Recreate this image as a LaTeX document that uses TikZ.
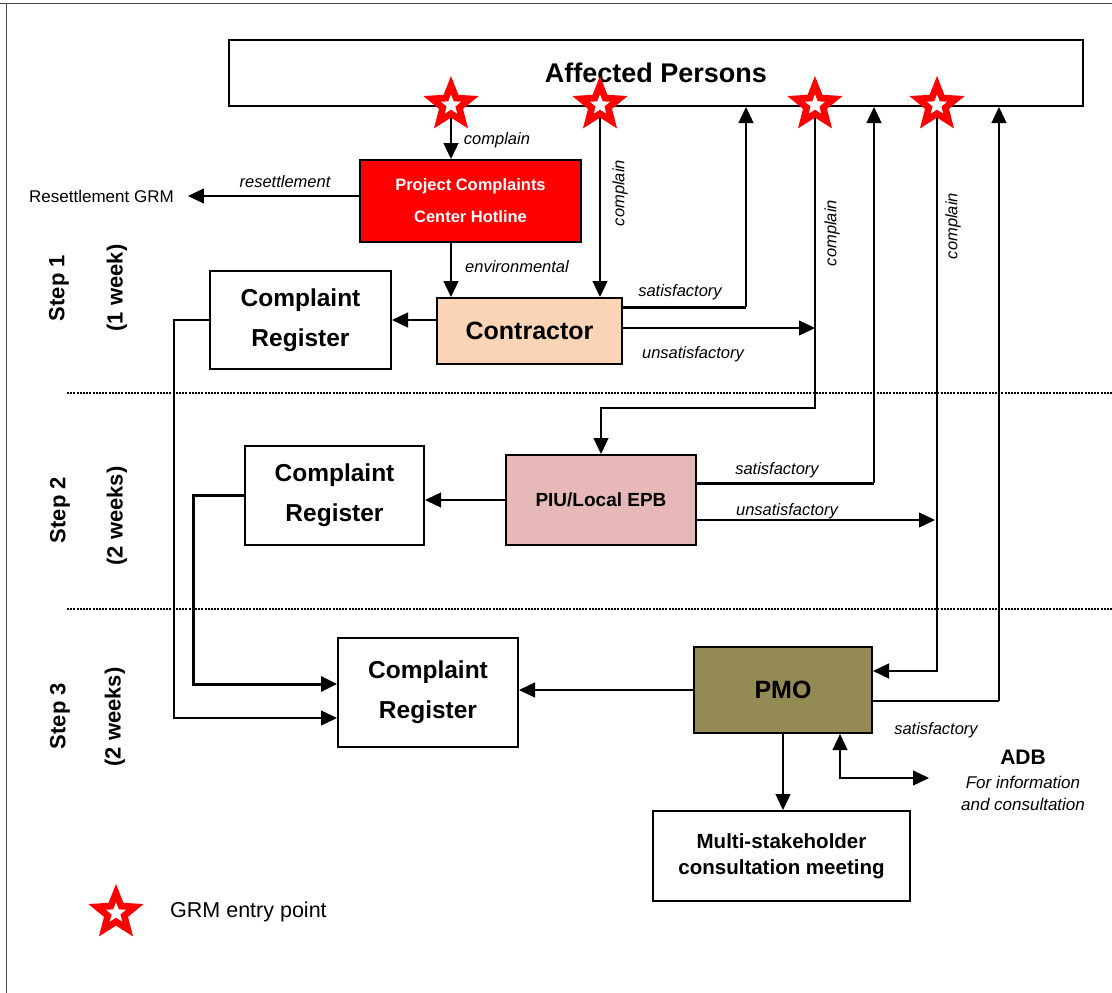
\documentclass[tikz,border=0pt]{standalone}
\usepackage{fontspec}
\setmainfont{Liberation Sans}
\usetikzlibrary{arrows.meta,shapes.geometric}
\definecolor{hotred}{HTML}{FF0000}
\definecolor{peach}{HTML}{FBD5B5}
\definecolor{piupink}{HTML}{E6B9B8}
\definecolor{olive}{HTML}{948A54}
\begin{document}
\begin{tikzpicture}[x=1pt,y=-1pt,
  box/.style={draw, line width=2pt, inner sep=0pt, align=center,
    font=\bfseries\fontsize{24.5}{40}\selectfont},
  tip/.tip={Triangle[length=16pt,width=15pt]},
  arr/.style={line width=1.3pt, -tip},
  thk/.style={line width=3pt},
  lbl/.style={font=\itshape\fontsize{16.5}{20}\selectfont, inner sep=0pt},
  steplbl/.style={rotate=90, font=\bfseries\fontsize{22}{24}\selectfont, inner sep=0pt},
  redstar/.style={star, star points=5, star point ratio=2.3, fill=hotred, minimum size=58pt, inner sep=0pt},
  whitestar/.style={star, star points=5, star point ratio=2.3, fill=white, minimum size=21pt, inner sep=0pt},
  sep/.style={line width=2.5pt, dash pattern=on 2pt off 1.2pt}
]
\useasboundingbox (0,0) rectangle (1112,993);

% outer frame
\draw[black!70, line width=1pt] (0,3) -- (1112,3);
\draw[black!70, line width=1pt] (6,3) -- (6,993);

% step separators
\draw[sep] (67,393) -- (1112,393);
\draw[sep] (67,609) -- (1112,609);

% entry points and bends
\coordinate (s1) at (451,105);
\coordinate (s2) at (600,105);
\coordinate (s3) at (815,105);
\coordinate (s4) at (937,105);
\coordinate (r1) at (746,307);
\coordinate (r2) at (874,483);
\coordinate (r3) at (999,701);
\coordinate (u1) at (815,328);
\coordinate (u2) at (935,520);
\coordinate (b3) at (601,408);
\coordinate (e4) at (937,671);
\coordinate (L1) at (174,718);
\coordinate (L2) at (193,684);
\coordinate (adbx) at (840,778);
\coordinate (adbin) at (929,778);

% boxes
\node[box, minimum width=854pt, minimum height=66pt,
  font=\bfseries\fontsize{27}{30}\selectfont] (ap) at (656,73) {Affected Persons};
\node[box, fill=hotred, text=white, minimum width=221pt, minimum height=82pt,
  font=\bfseries\fontsize{16.5}{32}\selectfont] (hot) at (470.5,201) {Project Complaints\\Center Hotline};
\node[font=\fontsize{17}{20}\selectfont, inner sep=0pt, anchor=west] (rgrm) at (29,196) {Resettlement GRM};
\node[box, fill=peach, minimum width=185pt, minimum height=66pt,
  font=\bfseries\fontsize{25}{30}\selectfont] (con) at (529.5,331) {Contractor};
\node[box, minimum width=181pt, minimum height=98pt] (cr1) at (300.5,320) {Complaint\\Register};
\node[box, fill=piupink, minimum width=190pt, minimum height=90pt,
  font=\bfseries\fontsize{19}{24}\selectfont] (piu) at (601,500) {PIU/Local EPB};
\node[box, minimum width=179pt, minimum height=99pt] (cr2) at (334.5,495.5) {Complaint\\Register};
\node[box, minimum width=180pt, minimum height=109pt] (cr3) at (428,692.5) {Complaint\\Register};
\node[box, fill=olive, minimum width=178pt, minimum height=86pt,
  font=\bfseries\fontsize{25}{30}\selectfont] (pmo) at (783,690) {PMO};
\node[box, minimum width=257pt, minimum height=90pt,
  font=\bfseries\fontsize{20.5}{26}\selectfont] (msm) at (781.5,856) {Multi-stakeholder\\consultation meeting};
\node[font=\bfseries\fontsize{21}{24}\selectfont, inner sep=0pt] (adb) at (1023,757) {ADB};
\node[align=center, font=\itshape\fontsize{17}{22}\selectfont, inner sep=0pt] (adbt) at (1023,793) {For information\\and consultation};

% step 1 connectors
\draw[arr] (s1) -- (s1 |- hot.north);
\draw[arr] (hot.west |- rgrm.east) -- ([xshift=14pt]rgrm.east);
\draw[arr] (s1 |- hot.south) -- (s1 |- con.north);
\draw[arr] (s2) -- (s2 |- con.north);
\draw[arr] (con.west |- cr1.east) -- (cr1.east);
\draw[thk] (con.east |- r1) -- (r1);
\draw[arr] (r1) -- (r1 |- ap.south);
\draw[arr] (con.east |- u1) -- (u1);

% step 2 connectors
\draw[arr] (s3) |- (b3) -- (piu.north);
\draw[thk] (piu.east |- r2) -- (r2);
\draw[arr] (r2) -- (r2 |- ap.south);
\draw[arr] (piu.east |- u2) -- (u2);
\draw[arr] (piu.west) -- (piu.west -| cr2.east);

% step 3 connectors
\draw[arr] (s4) -- (e4) -- (e4 -| pmo.east);
\draw[line width=1.3pt] (pmo.east |- r3) -- (r3);
\draw[arr] (r3) -- (r3 |- ap.south);
\draw[arr] (pmo.west) -- (pmo.west -| cr3.east);
\draw[arr] (cr1.west) -| (L1) -- (L1 -| cr3.west);
\draw[arr, line width=3pt] (cr2.west) -| (L2) -- (L2 -| cr3.west);
\draw[arr] (pmo.south) -- (pmo.south |- msm.north);
\draw[line width=1.3pt, tip-tip] (adbx |- pmo.south) |- (adbin);

% connector labels
\node[lbl] (lc1) at (497,140) {complain};
\node[lbl] (lres) at (285,182) {resettlement};
\node[lbl] (lenv) at (517,267) {environmental};
\node[lbl, rotate=90] (lc2) at (620,193) {complain};
\node[lbl] (ls1) at (680,292) {satisfactory};
\node[lbl] (lu1) at (693,354) {unsatisfactory};
\node[lbl, rotate=90] (lc3) at (832,233) {complain};
\node[lbl, rotate=90] (lc4) at (953,226) {complain};
\node[lbl] (ls2) at (777,470) {satisfactory};
\node[lbl] (lu2) at (787,511) {unsatisfactory};
\node[lbl] (ls3) at (936,730) {satisfactory};

% step labels
\node[steplbl] (st1a) at (59,288) {Step 1};
\node[steplbl] (st1b) at (117,288) {(1 week)};
\node[steplbl] (st2a) at (60,510) {Step 2};
\node[steplbl] (st2b) at (117,516) {(2 weeks)};
\node[steplbl] (st3a) at (60,716) {Step 3};
\node[steplbl] (st3b) at (115,717) {(2 weeks)};

% GRM entry points
\foreach \s in {s1,s2,s3,s4} {
  \node[redstar] (\s red) at (\s) {};
  \node[whitestar] (\s white) at (\s) {};
}

% legend
\node[redstar] (legred) at (116,913) {};
\node[whitestar] (legwhite) at (116,913) {};
\node[anchor=west, inner sep=0pt, font=\fontsize{21.5}{24}\selectfont] (legtext) at (170,912) {GRM entry point};
\end{tikzpicture}
\end{document}
